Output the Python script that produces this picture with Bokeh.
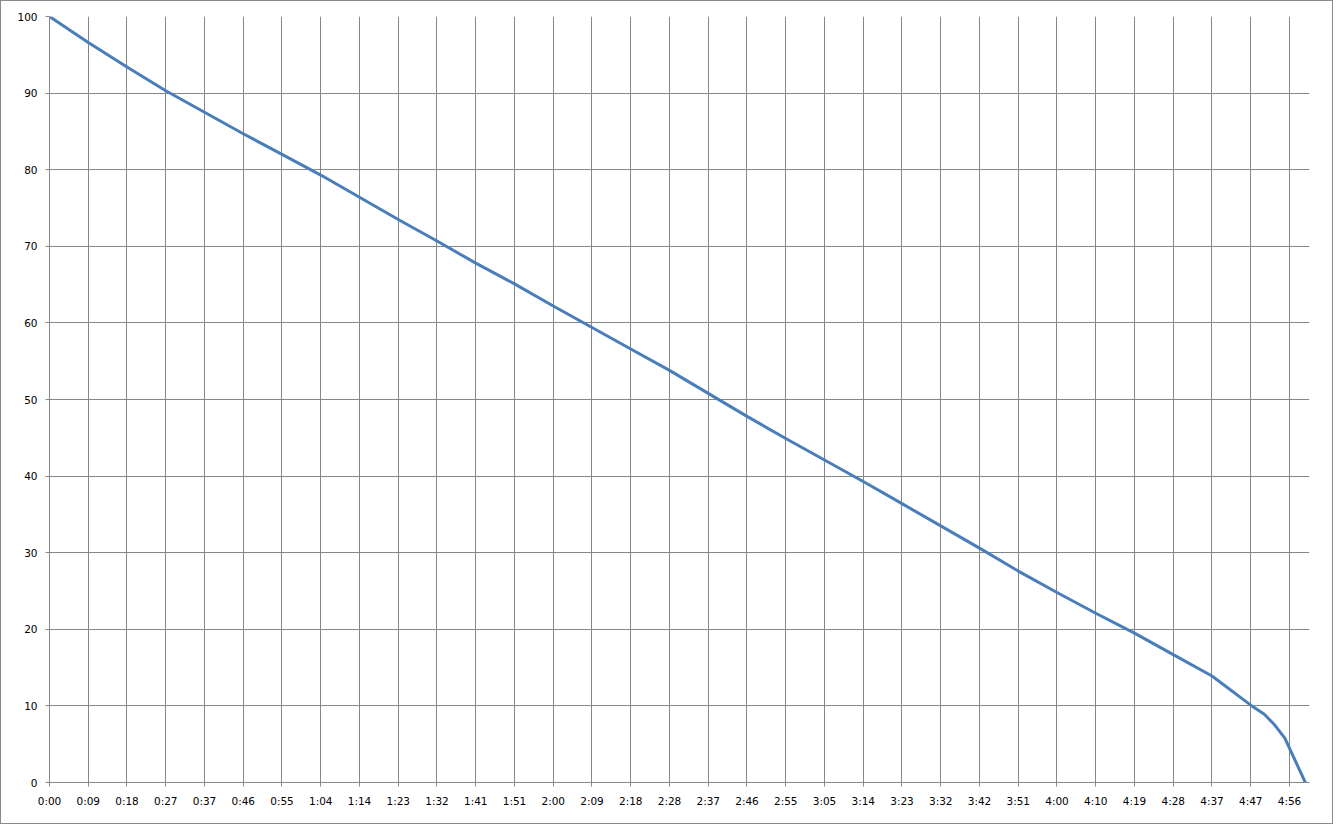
from bokeh.plotting import figure
from bokeh.models import Range1d, FixedTicker
from bokeh.embed import file_html
from bokeh.resources import INLINE

# elapsed time (seconds) and remaining level (%)
times = [0, 9.26, 18.52, 27.78, 37.04, 46.3, 55.56, 64.82, 74.08, 83.34,
         92.6, 101.86, 111.12, 120.38, 129.64, 138.9, 148.16, 157.42, 166.68,
         175.94, 185.2, 194.46, 203.72, 212.98, 222.24, 231.5, 240.76, 250.02,
         259.28, 268.54, 277.8, 287.06, 290.3, 292.8, 295.2, 300.1]
levels = [100, 96.6, 93.4, 90.3, 87.5, 84.7, 82.0, 79.3, 76.4, 73.5,
          70.7, 67.8, 65.1, 62.2, 59.4, 56.6, 53.8, 50.8, 47.8,
          44.9, 42.1, 39.3, 36.4, 33.5, 30.6, 27.6, 24.8, 22.1,
          19.5, 16.7, 13.9, 10.1, 8.9, 7.5, 5.8, 0]

tick_labels = ["0:00", "0:09", "0:18", "0:27", "0:37", "0:46", "0:55", "1:04",
               "1:14", "1:23", "1:32", "1:41", "1:51", "2:00", "2:09", "2:18",
               "2:28", "2:37", "2:46", "2:55", "3:05", "3:14", "3:23", "3:32",
               "3:42", "3:51", "4:00", "4:10", "4:19", "4:28", "4:37", "4:47",
               "4:56"]
tick_step = 9.26
x_max = 301.1

y_ticks = [0, 10, 20, 30, 40, 50, 60, 70, 80, 90, 100]

tick_pos = [round(i * tick_step, 2) for i in range(len(tick_labels))]

p = figure(width=1333, height=824, output_backend="svg", toolbar_location=None,
           x_range=Range1d(0, x_max), y_range=Range1d(0, 100),
           min_border_left=48, min_border_right=25, min_border_top=15,
           min_border_bottom=43)
p.outline_line_color = None
p.styles = {"border": "1px solid #8a8a8a", "box-sizing": "border-box"}

grid_col = "#868686"
p.xgrid.grid_line_color = grid_col
p.ygrid.grid_line_color = grid_col
p.xgrid.ticker = FixedTicker(ticks=tick_pos)
p.ygrid.ticker = FixedTicker(ticks=y_ticks)

p.xaxis.ticker = FixedTicker(ticks=tick_pos)
p.xaxis.major_label_overrides = {t: l for t, l in zip(tick_pos, tick_labels)}
p.yaxis.ticker = FixedTicker(ticks=y_ticks)

for ax in (p.xaxis[0], p.yaxis[0]):
    ax.axis_line_color = grid_col
    ax.major_tick_line_color = grid_col
    ax.major_tick_out = 4
    ax.major_tick_in = 0
    ax.minor_tick_line_color = None
    ax.major_label_text_font = "DejaVu Sans"
    ax.major_label_text_font_size = "10.5px"
    ax.major_label_text_color = "#000000"
p.xaxis.major_label_standoff = 8
p.yaxis.major_label_standoff = 8

p.line(times, levels, line_color="#4A7EBB", line_width=3, line_join="round")

open("out.html", "w").write(file_html(p, INLINE))
